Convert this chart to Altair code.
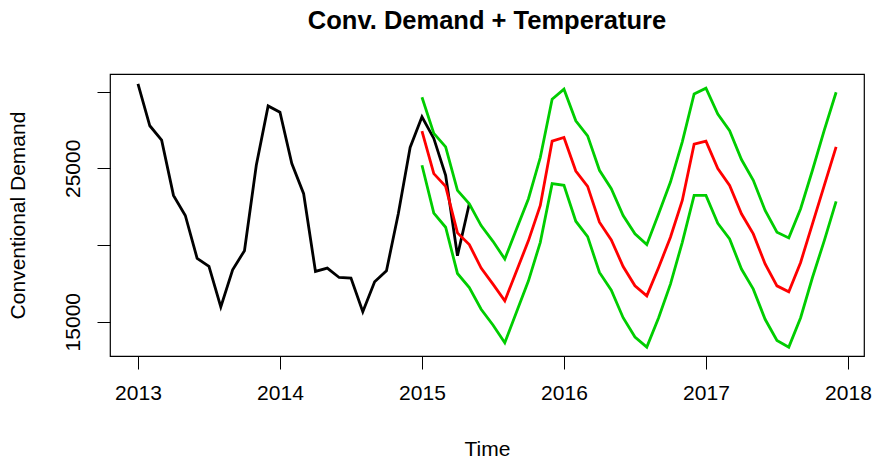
import altair as alt
import pandas as pd

# Observed conventional demand, monthly Jan 2013 .. May 2015
obs_start = 2013.0
observed = [30504, 27773, 26836, 23233, 21923, 19127, 18603, 15963, 18386, 19631, 25198, 29063,
            28650, 25310, 23345, 18275, 18498, 17882, 17843, 15655, 17600, 18321, 22035, 26358,
            28362, 26947, 24543, 19303, 22690]

# Forecast, monthly Jan 2015 .. Dec 2017
fc_start = 2015.0
forecast = [27425, 24655, 23823, 20790, 20024, 18498, 17450, 16356, 18321, 20286, 22578, 26770,
            27013, 24825, 23823, 21485, 20332, 18600, 17338, 16683, 18537, 20502, 22906, 26574,
            26770, 24982, 23888, 22035, 20725, 18760, 17338, 16945, 18865, 21380, 23888, 26397]
upper = [29633, 27275, 26397, 23561, 22690, 21268, 20240, 19087, 21052, 23017, 25703, 29502,
         30157, 28100, 27118, 24871, 23672, 21923, 20725, 20024, 22035, 24105, 26725, 29849,
         30222, 28539, 27445, 25572, 24216, 22251, 20830, 20463, 22362, 24871, 27491, 29960]
lower = [25198, 22074, 21157, 18144, 17227, 15812, 14784, 13624, 15655, 17666, 20175, 24000,
         23888, 21550, 20548, 18210, 17057, 15262, 13998, 13343, 15262, 17450, 20175, 23233,
         23233, 21419, 20397, 18432, 17122, 15157, 13782, 13343, 15262, 17882, 20286, 22840]

x_ticks = [2013, 2014, 2015, 2016, 2017, 2018]
y_ticks = [15000, 20000, 25000, 30000]
y_labels = [15000, 25000]


def frame(start, values):
    return pd.DataFrame({"t": [start + i / 12 for i in range(len(values))], "v": values})


FONT = "Liberation Sans"
FS = 21
xs = alt.Scale(domain=[2012.803, 2018.113], nice=False, zero=False)
ys = alt.Scale(domain=[12764, 31147], nice=False, zero=False)

label_test = " || ".join(f"datum.value == {v}" for v in y_labels)

x_enc = alt.X("t:Q", scale=xs, axis=alt.Axis(
    values=x_ticks, format="d", title="Time", domain=False, grid=False,
    tickSize=13, tickColor="black", tickWidth=1,
    labelFont=FONT, labelFontSize=FS, labelColor="black", labelPadding=13,
    titleFont=FONT, titleFontSize=FS, titleFontWeight="normal", titleColor="black",
    titleX=377, titleY=93, titleBaseline="middle", titleAlign="center"))
y_enc = alt.Y("v:Q", scale=ys, axis=alt.Axis(
    values=y_ticks, format="d", title="Conventional Demand", domain=False, grid=False,
    tickSize=13, tickColor="black", tickWidth=1,
    labelExpr=f"({label_test}) ? datum.label : ''",
    labelAngle=270, labelAlign="center", labelBaseline="bottom",
    labelFont=FONT, labelFontSize=FS, labelColor="black", labelPadding=14,
    titleFont=FONT, titleFontSize=FS, titleFontWeight="normal", titleColor="black",
    titleAngle=270, titleX=-92, titleY=141, titleBaseline="middle", titleAlign="center"))


def line(df, color):
    return alt.Chart(df).mark_line(color=color, strokeWidth=2.8).encode(x=x_enc, y=y_enc)


chart = alt.layer(
    line(frame(obs_start, observed), "black"),
    line(frame(fc_start, forecast), "#FF0000"),
    line(frame(fc_start, upper), "#00CD00"),
    line(frame(fc_start, lower), "#00CD00"),
).properties(
    width=754, height=282,
    background="white",
    title=alt.TitleParams("Conv. Demand + Temperature", font=FONT, fontSize=25.5,
                          fontWeight="bold", color="black", anchor="middle", offset=40),
    autosize=alt.AutoSizeParams(type="none"),
    padding={"left": 110, "top": 74, "right": 11, "bottom": 104},
).configure_view(stroke="black", strokeWidth=1.2)

chart.save("out.html", embed_options={"renderer": "svg", "actions": False})
